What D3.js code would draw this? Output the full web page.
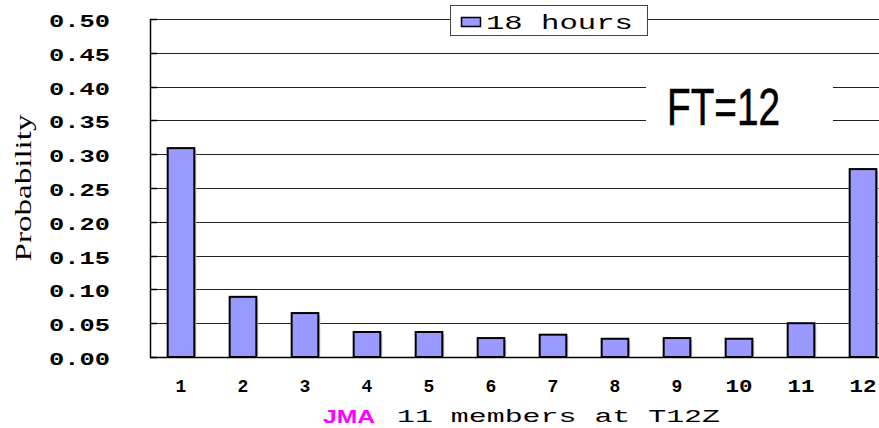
<!DOCTYPE html>
<html><head><meta charset="utf-8">
<script src="https://cdn.jsdelivr.net/npm/d3@7/dist/d3.min.js"></script>
<style>body{margin:0;background:#fff}svg{display:block}</style>
</head><body>
<svg id="c" width="879" height="428"></svg>
<script>
const categories = ["1","2","3","4","5","6","7","8","9","10","11","12"];
const values = [0.309, 0.089, 0.065, 0.037, 0.037, 0.028, 0.033, 0.027, 0.028, 0.027, 0.050, 0.278];
const yTicks = [0,0.05,0.10,0.15,0.20,0.25,0.30,0.35,0.40,0.45,0.50];
const seriesName = "18 hours";
const yTitle = "Probability";
const xTitleA = "JMA";
const xTitleB = "11 members at T12Z";
const annotation = "FT=12";

const MONO = "'Liberation Mono', 'Courier New', monospace";
const svg = d3.select("#c");
const L = 150, R = 894, T = 19, B = 357;
const x = d3.scaleBand().domain(categories).range([L, R]).paddingInner(0.57).paddingOuter(0.285);
const y = d3.scaleLinear().domain([0, 0.5]).range([B, T]);

// gridlines
svg.append("g").selectAll("line").data(yTicks.filter(d => d > 0)).join("line")
  .attr("x1", L).attr("x2", 879).attr("y1", d => Math.round(y(d)) + 0.5).attr("y2", d => Math.round(y(d)) + 0.5)
  .attr("stroke", "#222").attr("stroke-width", 1);

// FT=12 white box
svg.append("rect").attr("x", 646).attr("y", 68).attr("width", 187).attr("height", 70).attr("fill", "#fff");
svg.append("text").attr("x", 667).attr("y", 125).attr("font-family", "'Liberation Sans', Arial, sans-serif")
  .attr("font-size", 52).attr("textLength", 113).attr("lengthAdjust", "spacingAndGlyphs").attr("fill", "#000")
  .attr("stroke", "#000").attr("stroke-width", 0.6).text(annotation);

// axes lines
svg.append("line").attr("x1", L + 0.5).attr("x2", L + 0.5).attr("y1", T).attr("y2", B + 1).attr("stroke", "#000").attr("stroke-width", 1.5);
svg.append("line").attr("x1", L).attr("x2", 879).attr("y1", B + 0.5).attr("y2", B + 0.5).attr("stroke", "#000").attr("stroke-width", 1.5);
svg.append("g").selectAll("line").data(yTicks).join("line")
  .attr("x1", L).attr("x2", L + 7).attr("y1", d => Math.round(y(d)) + 0.5).attr("y2", d => Math.round(y(d)) + 0.5)
  .attr("stroke", "#000").attr("stroke-width", 1.5);

// bars shadow
svg.append("g").selectAll("rect").data(values).join("rect")
  .attr("x", (d, i) => x(categories[i]) + 2).attr("y", d => y(d) + 2)
  .attr("width", x.bandwidth()).attr("height", d => B - y(d) - 2)
  .attr("fill", "#c8c8c8");
// bars
svg.append("g").selectAll("rect").data(values).join("rect")
  .attr("x", (d, i) => x(categories[i])).attr("y", d => y(d))
  .attr("width", x.bandwidth()).attr("height", d => B - y(d))
  .attr("fill", "#9999ff").attr("stroke", "#000").attr("stroke-width", 2);

// y tick labels
svg.append("g").selectAll("text").data(yTicks).join("text")
  .attr("x", 110).attr("y", d => y(d) + 8).attr("text-anchor", "end")
  .attr("font-family", MONO).attr("font-weight", "bold").attr("font-size", 18)
  .attr("textLength", 61).attr("lengthAdjust", "spacingAndGlyphs")
  .attr("fill", "#000").text(d => d.toFixed(2));

// x tick labels
svg.append("g").selectAll("text").data(categories).join("text")
  .attr("x", d => x(d) + x.bandwidth() / 2).attr("y", 392).attr("text-anchor", "middle")
  .attr("font-family", MONO).attr("font-weight", "bold").attr("font-size", 18)
  .attr("fill", "#000")
  .each(function(d){ if (d.length > 1) d3.select(this).attr("textLength", 27).attr("lengthAdjust", "spacingAndGlyphs"); })
  .text(d => d);

// y title
svg.append("text").attr("transform", "translate(31,188) rotate(-90)").attr("text-anchor", "middle")
  .attr("font-family", "'Liberation Serif', 'Times New Roman', serif").attr("font-size", 24)
  .attr("textLength", 147).attr("lengthAdjust", "spacingAndGlyphs").attr("fill", "#000").text(yTitle);

// x title
svg.append("text").attr("x", 323).attr("y", 423).attr("font-family", "'Liberation Sans', Arial, sans-serif")
  .attr("font-weight", "bold").attr("font-size", 19).attr("textLength", 52).attr("lengthAdjust", "spacingAndGlyphs")
  .attr("fill", "#ff00ff").text(xTitleA);
svg.append("text").attr("x", 397).attr("y", 422).attr("font-family", MONO)
  .attr("font-size", 19).attr("textLength", 323).attr("lengthAdjust", "spacingAndGlyphs")
  .attr("fill", "#000").text(xTitleB);

// legend
const lg = svg.append("g");
lg.append("rect").attr("x", 450.5).attr("y", 5.5).attr("width", 197).attr("height", 30).attr("fill", "#fff").attr("stroke", "#444").attr("stroke-width", 1);
lg.append("rect").attr("x", 461.5).attr("y", 17.5).attr("width", 19).attr("height", 9).attr("fill", "#9999ff").attr("stroke", "#000").attr("stroke-width", 1.5);
lg.append("text").attr("x", 486).attr("y", 29).attr("font-family", MONO).attr("font-size", 21)
  .attr("textLength", 147).attr("lengthAdjust", "spacingAndGlyphs").attr("fill", "#000").text(seriesName);
</script>
</body></html>
